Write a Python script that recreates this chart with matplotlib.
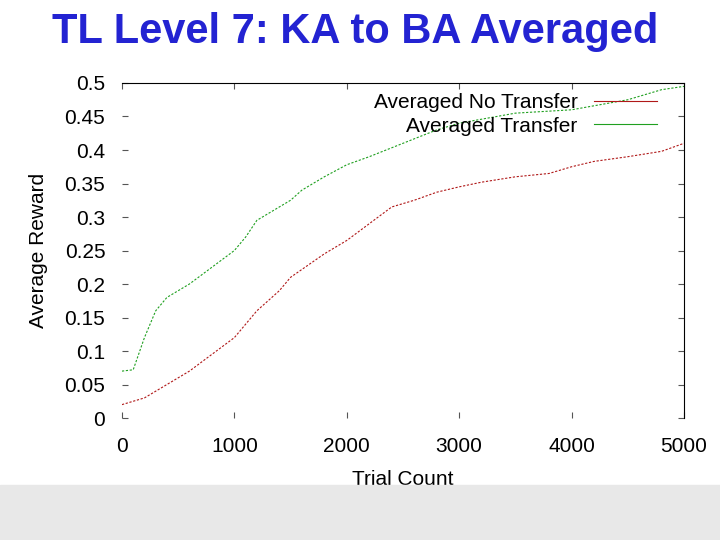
import matplotlib
matplotlib.use("Agg")
import matplotlib.pyplot as plt
from matplotlib.patches import Rectangle

# Datos
trials_transfer = [0, 100, 200, 300, 400, 600, 800, 1000, 1100, 1200, 1500, 1600, 1800,
                   2000, 2200, 2500, 2800, 3000, 3500, 4000, 4500, 4800, 5000]
reward_transfer = [0.07, 0.072, 0.12, 0.16, 0.18, 0.2, 0.225, 0.25, 0.27, 0.295, 0.325,
                   0.34, 0.36, 0.378, 0.39, 0.41, 0.43, 0.44, 0.455, 0.46, 0.475, 0.49, 0.495]
trials_no = [0, 200, 400, 600, 800, 1000, 1200, 1400, 1500, 1800, 2000, 2200, 2400, 2600,
             2800, 3000, 3200, 3500, 3800, 4000, 4200, 4500, 4800, 5000]
reward_no = [0.02, 0.03, 0.05, 0.07, 0.095, 0.12, 0.16, 0.19, 0.21, 0.245, 0.265, 0.29,
             0.315, 0.325, 0.337, 0.345, 0.352, 0.36, 0.365, 0.375, 0.383, 0.39, 0.398, 0.41]
x_ticks = [0, 1000, 2000, 3000, 4000, 5000]
y_ticks = [0, 0.05, 0.1, 0.15, 0.2, 0.25, 0.3, 0.35, 0.4, 0.45, 0.5]

plt.rcParams["font.family"] = ["Liberation Sans", "DejaVu Sans"]
fig = plt.figure(figsize=(7.2, 5.4), dpi=100)
fig.patches.append(Rectangle((0, 0), 1, 55 / 540, transform=fig.transFigure,
                             color="#e8e8e8", zorder=0))
fig.text(0.494, 0.94, "TL Level 7: KA to BA Averaged", ha="center", va="center",
         fontsize=30, fontweight="heavy", color="#2323d2")

ax = fig.add_axes([0.1694, 0.2259, 0.7806, 0.6204])
ax.plot(trials_no, reward_no, color="#b01818", lw=0.8, ls=(0, (2, 1.5)),
        label="Averaged No Transfer")
ax.plot(trials_transfer, reward_transfer, color="#20a020", lw=0.8, ls=(0, (2, 1.5)),
        label="Averaged Transfer")
ax.set_xlim(0, 5000)
ax.set_ylim(0, 0.5)
ax.set_xticks(x_ticks)
ax.set_yticks(y_ticks)
ax.set_yticklabels([f"{v:g}" for v in y_ticks])
ax.tick_params(labelsize=15, length=4, direction="in", top=True, right=True,
               color="#555555")
ax.tick_params(axis="x", pad=14)
ax.tick_params(axis="y", pad=12)
for s in ["left", "bottom"]:
    ax.spines[s].set_visible(False)
ax.set_xlabel("Trial Count", fontsize=15, labelpad=10)
ax.set_ylabel("Average Reward", fontsize=15, labelpad=12)
leg = ax.legend(loc="upper right", frameon=False, fontsize=15, markerfirst=False,
                handlelength=3, borderaxespad=0.1, labelspacing=0.2,
                bbox_to_anchor=(0.97, 1.0))
for h in leg.get_lines():
    h.set_linestyle("-")

fig.savefig("out.png", dpi=100)
